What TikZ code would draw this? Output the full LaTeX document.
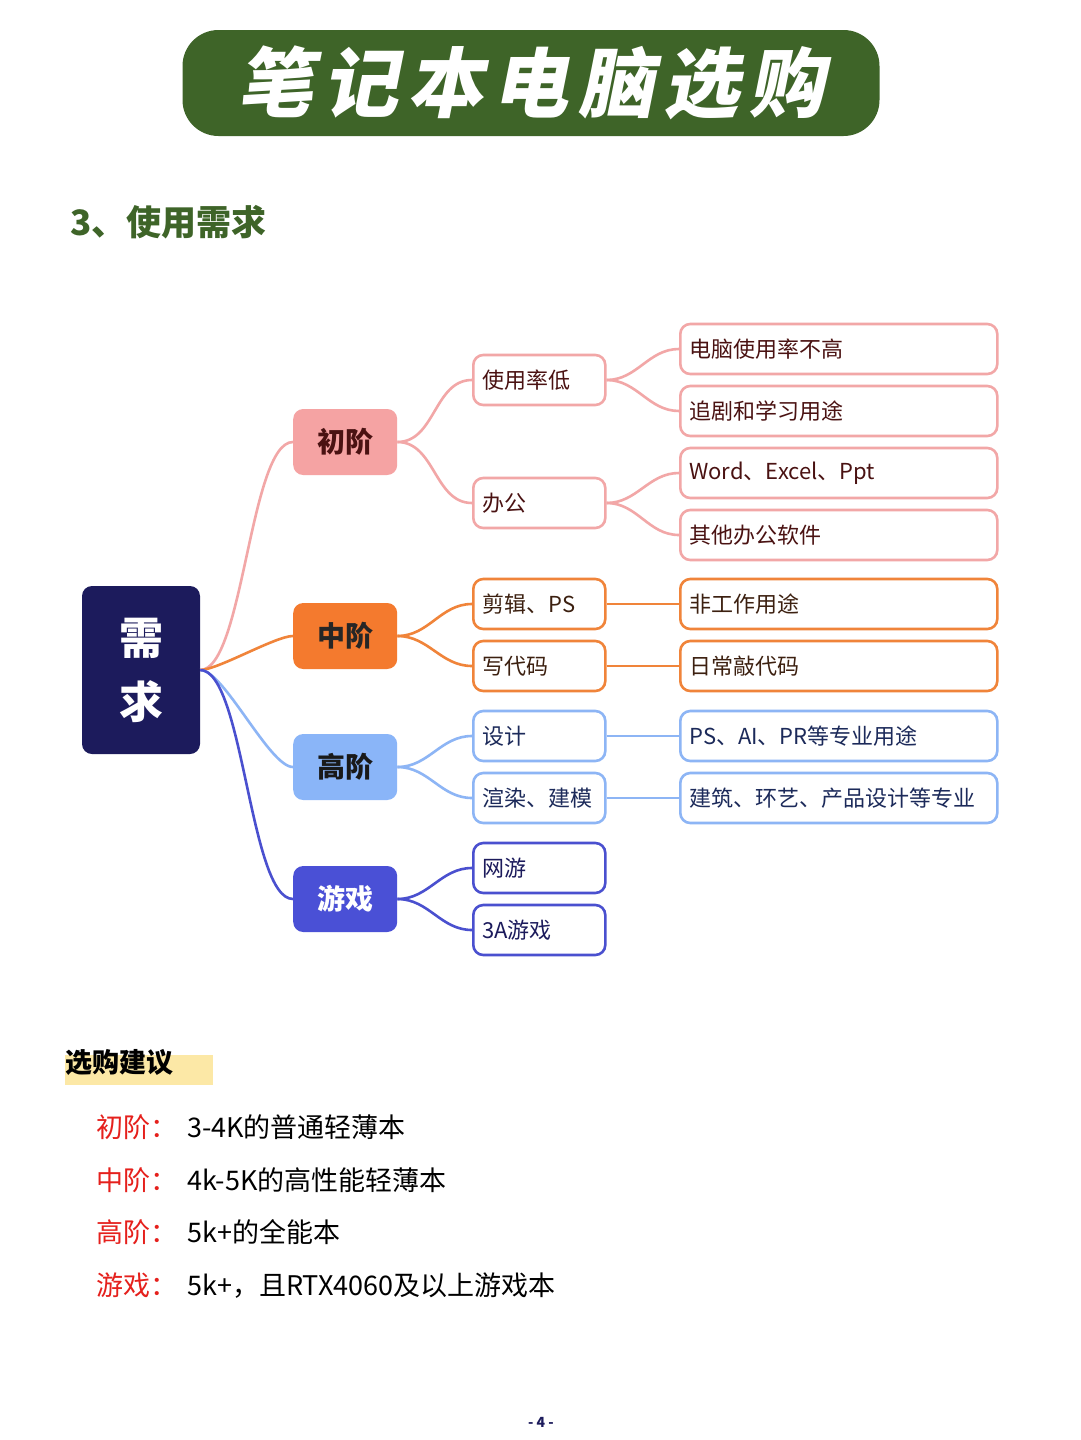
\documentclass[tikz,border=0pt]{standalone}
\usepackage{fontspec}
\setmainfont{Noto Sans CJK SC}
\newfontfamily\titlefont{Noto Sans CJK SC}[FakeSlant=0.2, LetterSpace=12]
\usetikzlibrary{positioning}

\definecolor{bannergreen}{HTML}{3E6428}
\definecolor{rootnavy}{HTML}{1C1B5C}
\definecolor{pinkfill}{HTML}{F5A3A3}
\definecolor{pinkline}{HTML}{F2A7A7}
\definecolor{orangefill}{HTML}{F47A2E}
\definecolor{orangeline}{HTML}{F0843A}
\definecolor{bluefill}{HTML}{8AB5F8}
\definecolor{blueline}{HTML}{8DB5F5}
\definecolor{indigofill}{HTML}{4A50D6}
\definecolor{indigoline}{HTML}{4A50CF}
\definecolor{pinktext}{HTML}{4A1212}
\definecolor{orangetext}{HTML}{3C2010}
\definecolor{bluetext}{HTML}{1C2A5A}
\definecolor{hiyellow}{HTML}{FCE8A6}
\definecolor{keyred}{HTML}{E5201C}

\begin{document}
\begin{tikzpicture}[
    x=1pt, y=-1pt,
    mapline/.style={line width=2.6pt},
    rootline/.style={mapline, looseness=0.45},
    rootbox/.style={rectangle, rounded corners=10pt, fill=rootnavy, text=white,
                    minimum width=118pt, minimum height=168pt, align=center,
                    font=\fontsize{44}{64}\selectfont\bfseries},
    lvlone/.style={rectangle, rounded corners=10pt, minimum width=104pt,
                   minimum height=66pt, anchor=west,
                   font=\fontsize{28}{32}\selectfont\bfseries},
    lvltwo/.style={rectangle, rounded corners=10pt, draw, line width=2.6pt, fill=white,
                   text width=114pt, align=left, inner xsep=9pt, minimum height=50pt,
                   anchor=west, font=\fontsize{22}{26}\selectfont},
    lvlthree/.style={lvltwo, text width=299pt},
    sugkey/.style={anchor=base west, inner sep=0pt, text=keyred,
                   font=\fontsize{27}{30}\selectfont},
    sugtext/.style={anchor=base west, inner sep=0pt,
                    font=\fontsize{27}{30}\selectfont}
]
    \useasboundingbox[fill=white] (0,0) rectangle (1080,1440);

    % banner and heading
    \node [rectangle, rounded corners=36pt, fill=bannergreen, minimum width=697pt,
           minimum height=106pt] (banner) at (531,83) {};
    \node [text=white, font=\titlefont\fontsize{76}{80}\selectfont\bfseries] (title)
          at (banner.center) {笔记本电脑选购};
    \node [anchor=west, inner sep=0pt, text=bannergreen,
           font=\fontsize{35}{40}\selectfont\bfseries] (heading) at (70,222) {3、使用需求};

    % mind map
    \node [rootbox] (need) at (141,670) {需\\求};

    \node [lvlone, fill=pinkfill, text=pinktext] (chu) at (293,442) {初阶};
    \node [lvlone, fill=orangefill, text=black!85] (zhong) at (293,636) {中阶};
    \node [lvlone, fill=bluefill, text=black!90] (gao) at (293,767) {高阶};
    \node [lvlone, fill=indigofill, text=white] (game) at (293,899) {游戏};

    \node [lvltwo, draw=pinkline, text=pinktext] (lowuse) at (472,380) {使用率低};
    \node [lvltwo, draw=pinkline, text=pinktext] (office) at (472,503) {办公};
    \node [lvltwo, draw=orangeline, text=orangetext] (edit) at (472,604) {剪辑、PS};
    \node [lvltwo, draw=orangeline, text=orangetext] (code) at (472,666) {写代码};
    \node [lvltwo, draw=blueline, text=bluetext] (design) at (472,736) {设计};
    \node [lvltwo, draw=blueline, text=bluetext] (render) at (472,798) {渲染、建模};
    \node [lvltwo, draw=indigoline, text=rootnavy] (online) at (472,868) {网游};
    \node [lvltwo, draw=indigoline, text=rootnavy] (aaa) at (472,930) {3A游戏};

    \node [lvlthree, draw=pinkline, text=pinktext] (pclow) at (679,349) {电脑使用率不高};
    \node [lvlthree, draw=pinkline, text=pinktext] (drama) at (679,411) {追剧和学习用途};
    \node [lvlthree, draw=pinkline, text=pinktext] (word) at (679,473) {Word、Excel、Ppt};
    \node [lvlthree, draw=pinkline, text=pinktext] (otheroffice) at (679,535) {其他办公软件};
    \node [lvlthree, draw=orangeline, text=orangetext] (nonwork) at (679,604) {非工作用途};
    \node [lvlthree, draw=orangeline, text=orangetext] (dailycode) at (679,666) {日常敲代码};
    \node [lvlthree, draw=blueline, text=bluetext] (pro) at (679,736) {PS、AI、PR等专业用途};
    \node [lvlthree, draw=blueline, text=bluetext] (arch) at (679,798) {建筑、环艺、产品设计等专业};

    \draw [rootline, pinkline] (need.east) to[out=0, in=180] (chu.west);
    \draw [rootline, orangeline] (need.east) to[out=0, in=180] (zhong.west);
    \draw [rootline, blueline] (need.east) to[out=0, in=180] (gao.west);
    \draw [rootline, indigoline] (need.east) to[out=0, in=180] (game.west);

    \draw [mapline, pinkline] (chu.east) to[out=0, in=180] (lowuse.west);
    \draw [mapline, pinkline] (chu.east) to[out=0, in=180] (office.west);
    \draw [mapline, orangeline] (zhong.east) to[out=0, in=180] (edit.west);
    \draw [mapline, orangeline] (zhong.east) to[out=0, in=180] (code.west);
    \draw [mapline, blueline] (gao.east) to[out=0, in=180] (design.west);
    \draw [mapline, blueline] (gao.east) to[out=0, in=180] (render.west);
    \draw [mapline, indigoline] (game.east) to[out=0, in=180] (online.west);
    \draw [mapline, indigoline] (game.east) to[out=0, in=180] (aaa.west);

    \draw [mapline, pinkline] (lowuse.east) to[out=0, in=180] (pclow.west);
    \draw [mapline, pinkline] (lowuse.east) to[out=0, in=180] (drama.west);
    \draw [mapline, pinkline] (office.east) to[out=0, in=180] (word.west);
    \draw [mapline, pinkline] (office.east) to[out=0, in=180] (otheroffice.west);
    \draw [mapline, orangeline] (edit) -- (nonwork);
    \draw [mapline, orangeline] (code) -- (dailycode);
    \draw [mapline, blueline] (design) -- (pro);
    \draw [mapline, blueline] (render) -- (arch);

    % buying advice
    \fill [hiyellow] (65,1055) rectangle (213,1085);
    \node [anchor=west, inner sep=0pt, font=\fontsize{27}{30}\selectfont\bfseries]
          (advice) at (65,1062) {选购建议};

    \node [sugkey] (k1) at (96,1137) {初阶：};
    \node [sugtext] (t1) at (187,1137) {3-4K的普通轻薄本};
    \node [sugkey] (k2) at (96,1190) {中阶：};
    \node [sugtext] (t2) at (187,1190) {4k-5K的高性能轻薄本};
    \node [sugkey] (k3) at (96,1242) {高阶：};
    \node [sugtext] (t3) at (187,1242) {5k+的全能本};
    \node [sugkey] (k4) at (96,1295) {游戏：};
    \node [sugtext] (t4) at (187,1295) {5k+，且RTX4060及以上游戏本};

    \node [text=rootnavy, font=\fontsize{14}{16}\selectfont\bfseries] (page)
          at (541,1422) {- 4 -};
\end{tikzpicture}
\end{document}
